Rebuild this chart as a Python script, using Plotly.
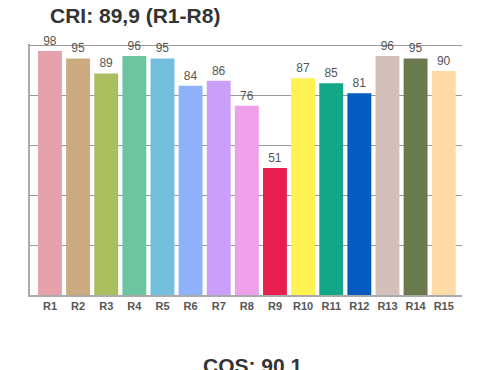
import plotly.graph_objects as go

categories = ["R1", "R2", "R3", "R4", "R5", "R6", "R7", "R8", "R9", "R10", "R11", "R12", "R13", "R14", "R15"]
values = [98, 95, 89, 96, 95, 84, 86, 76, 51, 87, 85, 81, 96, 95, 90]
colors = ["#E6A1AA", "#CBAA7F", "#ABBE5E", "#6CC5A0", "#74BEDD", "#8FB0FA", "#CB9FF9", "#EEA1E9",
          "#E81F4E", "#FDF24F", "#12A887", "#055CC0", "#D5BFBA", "#6A7A4E", "#FDDAA6"]
title_text = "CRI: 89,9 (R1-R8)"
footer_text = "CQS: 90.1"

fig = go.Figure(go.Bar(
    x=categories, y=values, marker=dict(color=colors, line=dict(width=0)),
    width=0.85, text=[str(v) for v in values], textposition="outside",
    textfont=dict(family="Liberation Sans, Arial, sans-serif", size=12, color="#555555"),
    cliponaxis=False, hoverinfo="skip"))

fig.update_layout(
    width=500, height=370, margin=dict(l=30, r=38, t=44, b=75, autoexpand=False),
    paper_bgcolor="white", plot_bgcolor="white", showlegend=False,
    font=dict(family="Liberation Sans, Arial, sans-serif"),
    xaxis=dict(range=[-0.71, 14.65], showline=True, linecolor="#aaaaaa", linewidth=1.5,
               showgrid=False, ticks="", automargin=False, ticklabelstandoff=0,
               tickfont=dict(size=11, color="#555555", family="Liberation Sans, Arial, sans-serif",
                             weight="bold"),
               fixedrange=True),
    yaxis=dict(range=[0, 100.8], tickvals=[20, 40, 60, 80, 100], showline=True, linecolor="#aaaaaa",
               linewidth=1.5, automargin=False,
               showgrid=True, gridcolor="#999999", gridwidth=1, showticklabels=False, ticks="",
               zeroline=False, fixedrange=True),
    annotations=[
        dict(text="<b>" + title_text + "</b>", xref="paper", yref="paper",
             x=(135 - 30) / 432, y=(295 - 15.5) / 251, xanchor="center", yanchor="middle",
             showarrow=False, font=dict(size=21, color="#333333")),
        dict(text="<b>" + footer_text + "</b>", xref="paper", yref="paper",
             x=(253 - 30) / 432, y=(295 - 352) / 251, xanchor="center", yanchor="top",
             showarrow=False, font=dict(size=21, color="#333333")),
    ],
)

fig.write_html("out.html", config={"displayModeBar": False},
               post_script="document.body.style.margin='0';document.body.style.overflow='hidden';")
